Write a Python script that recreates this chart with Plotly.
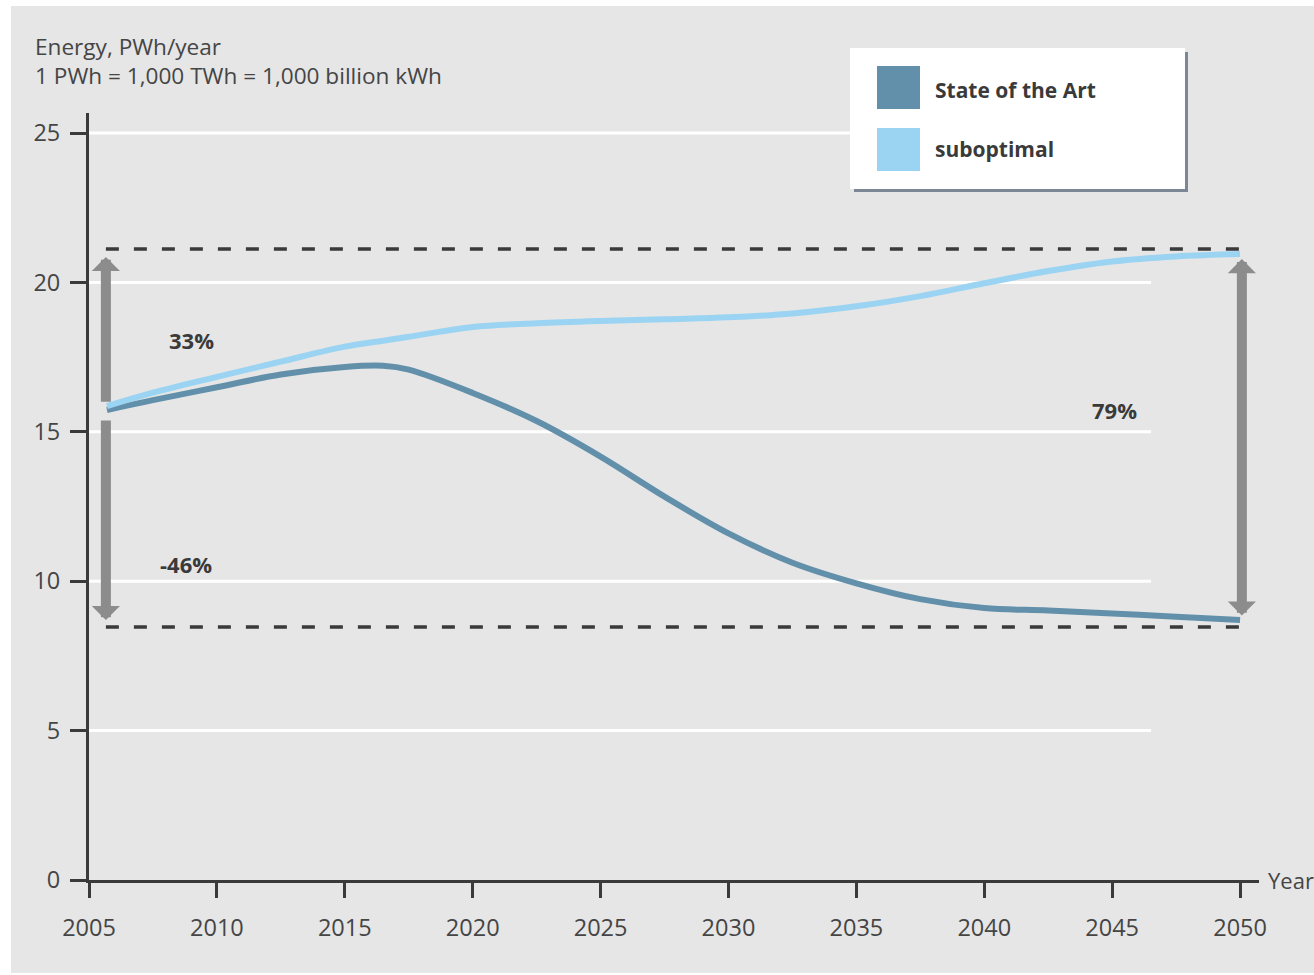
import plotly.graph_objects as go

# ---------------- data ----------------
years = [2005.7, 2007.5, 2010, 2012.5, 2015, 2016.5, 2017.5, 2020, 2022.5, 2025, 2027.5,
         2030, 2032.5, 2035, 2037.5, 2040, 2042.5, 2045, 2047.5, 2050]
state_of_the_art = [15.73, 16.06, 16.49, 16.92, 17.17, 17.21, 17.08, 16.30, 15.36, 14.17, 12.83,
                    11.60, 10.62, 9.93, 9.40, 9.10, 9.02, 8.92, 8.81, 8.70]
suboptimal = [15.86, 16.31, 16.84, 17.35, 17.85, 18.05, 18.18, 18.51, 18.63, 18.71, 18.77,
              18.83, 18.96, 19.20, 19.54, 19.97, 20.38, 20.70, 20.87, 20.95]

series_names = ["State of the Art", "suboptimal"]
series_colors = ["#6290ab", "#9bd4f2"]

x_ticks = [2005, 2010, 2015, 2020, 2025, 2030, 2035, 2040, 2045, 2050]
y_ticks = [0, 5, 10, 15, 20, 25]
grid_levels = [5, 10, 15, 20, 25]

ref_levels = [21.12, 8.47]          # dashed reference lines (max / min)
ref_x = [2005.66, 2050.07]          # where the reference lines start / end
left_arrow_up = [15.96, 20.85]      # tail, tip
left_arrow_down = [15.43, 8.70]
right_arrow = [8.80, 20.78]
pct_labels = ["33%", "-46%", "79%"]
pct_label_pos = [(2009.0, 18.06), (2008.8, 10.56), (2045.1, 15.74)]

y_title_lines = ["Energy, PWh/year", "1 PWh = 1,000 TWh = 1,000 billion kWh"]
x_title = "Year"

# ---------------- layout helpers (pixel -> paper) ----------------
W, H = 1314, 975
L, R, T, B = 89, 55, 113, 95
PW, PH = W - L - R, H - T - B


def px(x):
    return (x - L) / PW


def py(y):
    return (H - B - y) / PH


FONT = "Open Sans"
TXT = "#454545"
DARK = "#3a3a3a"
ARROW = "#8c8c8c"

fig = go.Figure()
for name, vals, col in zip(series_names, [state_of_the_art, suboptimal], series_colors):
    fig.add_trace(go.Scatter(x=years, y=vals, mode="lines", name=name,
                             line=dict(color=col, width=6, shape="spline", smoothing=1.0),
                             showlegend=False, hoverinfo="x+y+name"))

shapes = []
# gray panel background
shapes.append(dict(type="rect", xref="paper", yref="paper", x0=px(11), x1=px(1320),
                   y0=py(973), y1=py(6), fillcolor="#e6e6e6", line=dict(width=0), layer="below"))
# custom gridlines (stop before the right end)
for g in grid_levels:
    shapes.append(dict(type="line", xref="x", yref="y", x0=2005, x1=2046.52, y0=g, y1=g,
                       line=dict(color="white", width=3), layer="below"))
# dashed reference lines
for lv in ref_levels:
    shapes.append(dict(type="line", xref="x", yref="y", x0=ref_x[0], x1=ref_x[1], y0=lv, y1=lv,
                       line=dict(color=DARK, width=3.5, dash="13px,15px"), layer="above"))
# legend box with shadow
shapes.append(dict(type="rect", xref="paper", yref="paper", x0=px(854), x1=px(1188),
                   y0=py(192), y1=py(52), fillcolor="#7b8794", line=dict(width=0), layer="above"))
shapes.append(dict(type="rect", xref="paper", yref="paper", x0=px(850), x1=px(1185),
                   y0=py(189), y1=py(48), fillcolor="white", line=dict(width=0), layer="above"))
# legend swatches
for i, col in enumerate(series_colors):
    top = 66 + i * 62
    shapes.append(dict(type="rect", xref="paper", yref="paper", x0=px(877), x1=px(920),
                       y0=py(top + 43), y1=py(top), fillcolor=col, line=dict(width=0), layer="above"))

annotations = []
# legend labels
for i, name in enumerate(series_names):
    annotations.append(dict(xref="paper", yref="paper", x=px(933), y=py(90 + i * 59), text=f"<b>{name}</b>",
                            showarrow=False, xanchor="left", yanchor="middle",
                            font=dict(family=FONT, size=21, color=DARK)))
# y title (two lines)
for i, line in enumerate(y_title_lines):
    annotations.append(dict(xref="paper", yref="paper", x=px(33), y=py(46 + i * 29), text=line, showarrow=False,
                            xanchor="left", yanchor="middle", align="left",
                            font=dict(family=FONT, size=22.6, color=TXT)))
# x title
annotations.append(dict(xref="paper", yref="paper", x=px(1266), y=py(880), text=x_title, showarrow=False,
                        xanchor="left", yanchor="middle", font=dict(family=FONT, size=22, color=TXT)))
# arrows
arrow_style = dict(xref="x", yref="y", axref="x", ayref="y", showarrow=True, text="",
                   arrowhead=1, arrowsize=0.47, arrowwidth=10, arrowcolor=ARROW, standoff=0, startstandoff=0)
annotations.append(dict(x=ref_x[0], y=left_arrow_up[1], ax=ref_x[0], ay=left_arrow_up[0], **arrow_style))
annotations.append(dict(x=ref_x[0], y=left_arrow_down[1], ax=ref_x[0], ay=left_arrow_down[0], **arrow_style))
annotations.append(dict(x=ref_x[1], y=right_arrow[1], ax=ref_x[1], ay=right_arrow[0], arrowside="end+start",
                        startarrowhead=1, startarrowsize=0.47, **arrow_style))
# percentage labels
for lab, (lx, ly) in zip(pct_labels, pct_label_pos):
    annotations.append(dict(xref="x", yref="y", x=lx, y=ly, text=f"<b>{lab}</b>", showarrow=False,
                            xanchor="center", yanchor="middle", font=dict(family=FONT, size=22, color=DARK)))

fig.update_layout(
    width=W, height=H,
    margin=dict(l=L, r=R, t=T, b=B, pad=0),
    paper_bgcolor="white", plot_bgcolor="rgba(0,0,0,0)",
    shapes=shapes, annotations=annotations,
    font=dict(family=FONT, size=20, color=TXT),
    xaxis=dict(range=[2005, 2050.74], tickvals=x_ticks, ticktext=[str(v) for v in x_ticks],
               showgrid=False, zeroline=False, showline=True, linewidth=3, linecolor=DARK,
               ticks="outside", ticklen=15, tickwidth=3, tickcolor=DARK, ticklabelstandoff=10,
               tickfont=dict(family=FONT, size=23.5, color=TXT), fixedrange=True),
    yaxis=dict(range=[0, 25.67], tickvals=y_ticks, showgrid=False, zeroline=False, showline=True,
               linewidth=3, linecolor=DARK, ticks="outside", ticklen=16, tickwidth=3, tickcolor=DARK,
               ticklabelstandoff=5, tickfont=dict(family=FONT, size=23.5, color=TXT), fixedrange=True),
)

fig.write_html("out.html", config={"displayModeBar": False},
               post_script="document.body.style.margin='0';document.body.style.overflow='hidden';")
